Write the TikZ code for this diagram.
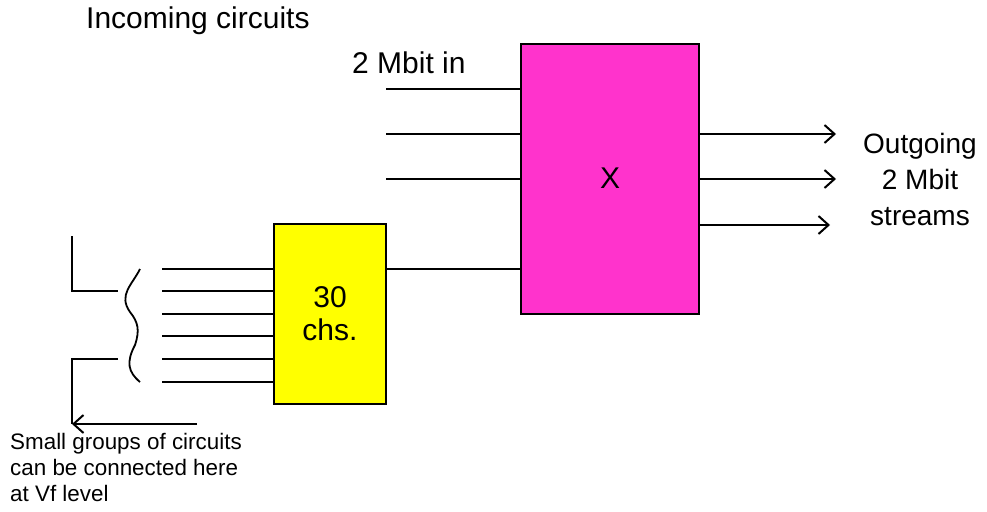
\documentclass[tikz,border=0pt]{standalone}
\usepackage{fontspec}
\setmainfont{Liberation Sans}
\usetikzlibrary{arrows.meta}
\definecolor{mux}{HTML}{FF33CC}
\definecolor{chbox}{HTML}{FFFF00}
\begin{document}
\begin{tikzpicture}[x=1pt,y=-1pt,
  wire/.style={line width=2pt},
  outarrow/.style={wire,-{Straight Barb[length=10pt,width=18pt,line width=2pt]}},
  lbl/.style={font=\fontsize{30}{34}\selectfont, inner sep=0pt},
  smalllbl/.style={font=\fontsize{22}{26}\selectfont, inner sep=0pt, align=left},
  boxstyle/.style={draw, line width=2pt, inner sep=0pt}]
\useasboundingbox (0,0) rectangle (987,511);
% boxes
\node[boxstyle, fill=mux, minimum width=178pt, minimum height=270pt] (mx) at (610,179) {};
\node[lbl] (xl) at (610,178) {X};
\node[boxstyle, fill=chbox, minimum width=112pt, minimum height=180pt] (yb) at (330,314) {};
\node[lbl, align=center, font=\fontsize{30}{33}\selectfont] (yl) at (330,314) {30\\chs.};
% texts
\node[lbl, anchor=west] (inc) at (86,21) {Incoming circuits};
\node[lbl, anchor=west] (min) at (352,63) {2 Mbit in};
\node[lbl, align=center, font=\fontsize{28}{36}\selectfont] (outl) at (920,179) {Outgoing\\2 Mbit\\streams};
\node[smalllbl, anchor=north west, font=\fontsize{22.4}{26}\selectfont] (sg) at (10,433) {Small groups of circuits\\can be connected here\\at Vf level};
% inputs to mux
\foreach \y/\n in {89/a,134/b,179/c}{
  \coordinate (in\n) at (386,\y);
  \draw[wire] (in\n) -- (mx.west |- in\n);
}
\draw[wire] (yb.east |- 0,269) -- (mx.west |- 0,269);
% outputs
\coordinate (oa) at (836,134);
\coordinate (ob) at (836,179);
\coordinate (oc) at (830,225);
\draw[outarrow] (mx.east |- oa) -- (oa);
\draw[outarrow] (mx.east |- ob) -- (ob);
\draw[outarrow] (mx.east |- oc) -- (oc);
% lines into yellow
\foreach \y/\n in {269/1,291/2,314/3,336/4,359/5,382/6}{
  \coordinate (l\n) at (162,\y);
  \draw[wire] (l\n) -- (yb.west |- l\n);
}
% bracket
\coordinate (t1) at (72,236);
\coordinate (t2) at (72,291);
\coordinate (t3) at (118,291);
\draw[wire] (t1) -- (t2) -- (t3);
\coordinate (b1) at (118,359);
\coordinate (b2) at (72,359);
\coordinate (b3) at (72,424);
\coordinate (b4) at (197,424);
\draw[wire] (b1) -- (b2) -- (b3);
\draw[wire,-{Straight Barb[length=10pt,width=18pt,line width=2pt]}] (b4) -- (b3);
% squiggle
\coordinate (s1) at (140,269);
\coordinate (s3) at (140,382);
\draw[line width=1.8pt] (s1) .. controls (132,285) and (118,295) .. (130,312)
  .. controls (138,322) and (140,330) .. (135,345)
  .. controls (126,362) and (128,372) .. (s3);
\end{tikzpicture}
\end{document}
